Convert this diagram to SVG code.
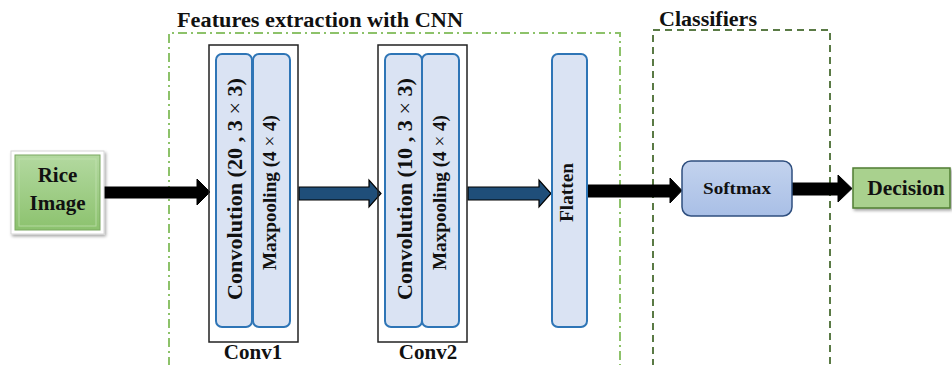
<svg xmlns="http://www.w3.org/2000/svg" width="952" height="365" viewBox="0 0 952 365">
  <defs>
    <linearGradient id="greenFill" x1="0" y1="0" x2="0" y2="1">
      <stop offset="0" stop-color="#b3d9a0"/>
      <stop offset="1" stop-color="#8cc26e"/>
    </linearGradient>
    <linearGradient id="blueFill" x1="0" y1="0" x2="0" y2="1">
      <stop offset="0" stop-color="#c3d3ee"/>
      <stop offset="1" stop-color="#a9bfe6"/>
    </linearGradient>
    <filter id="shadow" x="-10%" y="-10%" width="130%" height="140%">
      <feDropShadow dx="1.5" dy="2" stdDeviation="1.5" flood-color="#000" flood-opacity="0.35"/>
    </filter>
  </defs>
  <style>
    text { font-family: "Liberation Serif", "Times New Roman", serif; font-weight: bold; fill: #111; }
    .layer { fill: #dae3f3; stroke: #2e75b6; stroke-width: 2; }
    .frame { fill: none; stroke: #222; stroke-width: 1.5; }
    .arrow-black { fill: #000; stroke: #000; stroke-width: 1; }
    .arrow-blue { fill: #1f4e79; stroke: #000; stroke-width: 1.2; }
    .thin { font-weight: normal; }
  </style>

  <rect width="952" height="365" fill="#fff"/>

  <!-- section frames -->
  <g id="features-section">
    <path d="M169,366 V33 H620 V366" fill="none" stroke="#8dc26a" stroke-width="2" stroke-dasharray="9 4 2 4"/>
    <text x="177" y="27" font-size="20" textLength="286" lengthAdjust="spacingAndGlyphs">Features extraction with CNN</text>
  </g>
  <g id="classifiers-section">
    <path d="M653,366 V30 H830 V366" fill="none" stroke="#5a7a45" stroke-width="2" stroke-dasharray="7 5"/>
    <text x="659" y="26" font-size="20" textLength="98" lengthAdjust="spacingAndGlyphs">Classifiers</text>
  </g>

  <!-- connectors -->
  <g id="connectors">
    <polygon class="arrow-black" points="100,187 197,187 197,179 210,192 197,205 197,198 100,198"/>
    <polygon class="arrow-blue" points="299,187 369,187 369,180 381,193.5 369,207 369,200 299,200"/>
    <polygon class="arrow-blue" points="468,187 539,187 539,180 551,193.5 539,207 539,200 468,200"/>
    <polygon class="arrow-black" points="588,185 670,185 670,178 682,190.5 670,203 670,197 588,197"/>
    <polygon class="arrow-black" points="792,183 838,183 838,175 852,188.5 838,202 838,195 792,195"/>
  </g>

  <!-- input -->
  <g id="rice-image">
    <rect x="11" y="151" width="93" height="83" fill="#fff" stroke="#d6d6d6" stroke-width="1" filter="url(#shadow)"/>
    <rect x="15" y="155" width="85" height="75" fill="url(#greenFill)" stroke="#7aa860" stroke-width="1"/>
    <rect x="19" y="159" width="77" height="67" fill="none" stroke="#c4e2b4" stroke-width="1" opacity="0.7"/>
    <text x="57.5" y="182" font-size="21" text-anchor="middle">Rice</text>
    <text x="57.5" y="210" font-size="21" text-anchor="middle">Image</text>
  </g>

  <!-- first convolution block -->
  <g id="conv1">
    <rect class="frame" x="209" y="45" width="89" height="297"/>
    <rect class="layer" x="216" y="54" width="36" height="273" rx="6"/>
    <rect class="layer" x="253" y="54" width="37" height="273" rx="6"/>
    <text transform="translate(242,189) rotate(-90)" font-size="21.5" text-anchor="middle" textLength="222" lengthAdjust="spacingAndGlyphs">Convolution (20 , 3 <tspan class="thin">×</tspan> 3)</text>
    <text transform="translate(276,192.5) rotate(-90)" font-size="18.5" text-anchor="middle" textLength="155" lengthAdjust="spacingAndGlyphs">Maxpooling (4 <tspan class="thin">×</tspan> 4)</text>
    <text x="253" y="359" font-size="21" text-anchor="middle">Conv1</text>
  </g>

  <!-- second convolution block -->
  <g id="conv2">
    <rect class="frame" x="378" y="45" width="89" height="297"/>
    <rect class="layer" x="385" y="54" width="37" height="273" rx="6"/>
    <rect class="layer" x="422" y="54" width="37" height="273" rx="6"/>
    <text transform="translate(412,189) rotate(-90)" font-size="21.5" text-anchor="middle" textLength="222" lengthAdjust="spacingAndGlyphs">Convolution (10 , 3 <tspan class="thin">×</tspan> 3)</text>
    <text transform="translate(446,192.5) rotate(-90)" font-size="18.5" text-anchor="middle" textLength="155" lengthAdjust="spacingAndGlyphs">Maxpooling (4 <tspan class="thin">×</tspan> 4)</text>
    <text x="428" y="359" font-size="21" text-anchor="middle">Conv2</text>
  </g>

  <!-- flatten layer -->
  <g id="flatten">
    <rect class="layer" x="552" y="54" width="35" height="273" rx="6"/>
    <text transform="translate(573,192.5) rotate(-90)" font-size="18.5" text-anchor="middle" textLength="59" lengthAdjust="spacingAndGlyphs">Flatten</text>
  </g>

  <!-- classifier -->
  <g id="softmax">
    <rect x="682" y="161" width="110" height="55" rx="9" fill="url(#blueFill)" stroke="#2f4f7f" stroke-width="1.5"/>
    <text x="737" y="194" font-size="16" text-anchor="middle" textLength="68" lengthAdjust="spacingAndGlyphs">Softmax</text>
  </g>

  <!-- output -->
  <g id="decision">
    <rect x="853" y="168" width="97" height="40" fill="#a9d18e" stroke="#507e32" stroke-width="1.5" filter="url(#shadow)"/>
    <text x="906" y="195" font-size="21.5" text-anchor="middle">Decision</text>
  </g>
</svg>
